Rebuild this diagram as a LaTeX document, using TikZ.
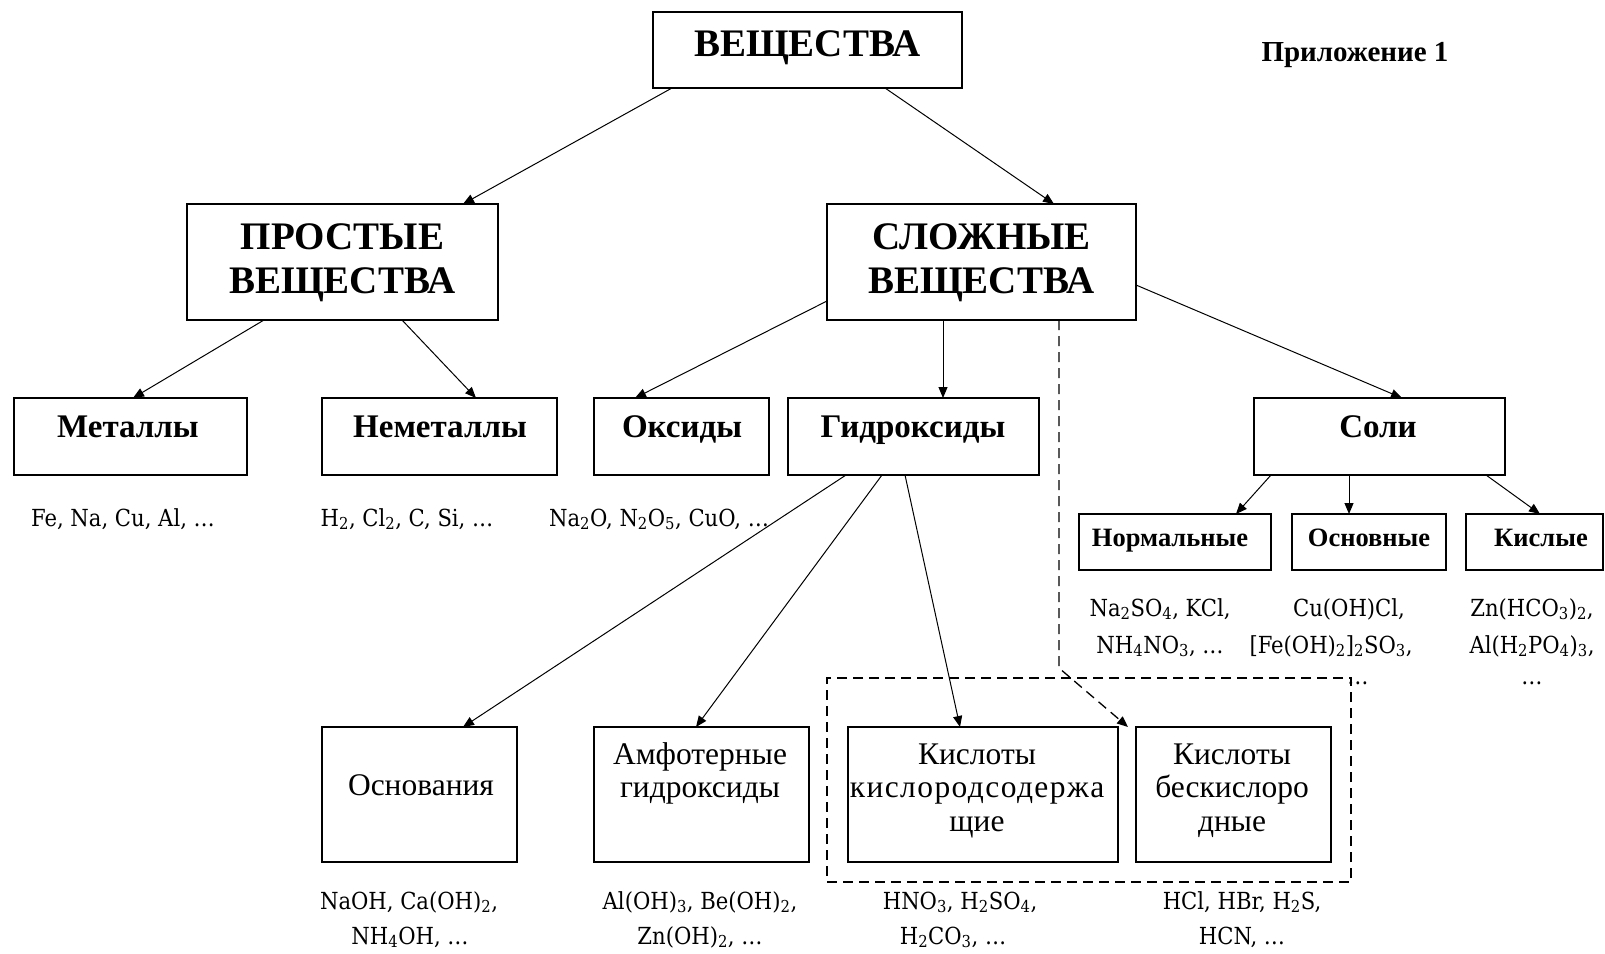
\documentclass[tikz,border=0pt]{standalone}
\usepackage{fontspec}
\setmainfont{Liberation Serif}
\newfontfamily\fml{DejaVu Serif Condensed}
\usetikzlibrary{arrows.meta}
\newcommand{\ix}[1]{\textsubscript{#1}}
\newcommand{\bx}[5]{\node[box, minimum width={#4-#2}, minimum height={#5-#3}] (#1) at ({(#2+#4)/2},{(#3+#5)/2}) {};}
\begin{document}
\begin{tikzpicture}[x=1pt,y=-1pt,
  box/.style={draw, line width=1.4pt, inner sep=0pt, outer sep=0pt},
  grp/.style={draw, line width=1.4pt, dash pattern=on 10pt off 6pt, inner sep=0pt, outer sep=0pt},
  arr/.style={-{Triangle[length=11pt,width=9pt]}, line width=1pt},
  big/.style={font=\fontsize{39}{41}\selectfont\bfseries, anchor=base},
  mid/.style={font=\fontsize{33}{35}\selectfont\bfseries, anchor=base},
  sml/.style={font=\fontsize{26.5}{28}\selectfont\bfseries, anchor=base},
  reg/.style={font=\fontsize{31.5}{33}\selectfont, anchor=base},
  fm/.style={font=\fml\fontsize{23.5}{25}\selectfont, anchor=base, inner sep=0pt},
]
\fill[white] (0,0) rectangle (1605,953);
\useasboundingbox (0,0) rectangle (1605,953);

% boxes
\bx{top}{653}{12}{962}{88}
\bx{pros}{187}{204}{498}{320}
\bx{slo}{827}{204}{1136}{320}
\bx{met}{14}{398}{247}{475}
\bx{nem}{322}{398}{557}{475}
\bx{oks}{594}{398}{769}{475}
\bx{gid}{788}{398}{1039}{475}
\bx{sol}{1254}{398}{1505}{475}
\bx{nor}{1079}{514}{1271}{570}
\bx{osn}{1292}{514}{1446}{570}
\bx{kis}{1466}{514}{1603}{570}
\bx{osv}{322}{727}{517}{862}
\bx{amf}{594}{727}{809}{862}
\bx{kk}{848}{727}{1118}{862}
\bx{kb}{1136}{727}{1331}{862}
\node[grp, minimum width=524, minimum height=204] (grp) at (1089,780) {};

% labels
\node[big] (l1) at (807.5,56) {ВЕЩЕСТВА};
\node[big] (l2a) at (342.5,249) {ПРОСТЫЕ};
\node[big] (l2b) at (342.5,293) {ВЕЩЕСТВА};
\node[big] (l3a) at (981.5,249) {СЛОЖНЫЕ};
\node[big] (l3b) at (981.5,293) {ВЕЩЕСТВА};
\node[mid] (l4) at (128,437) {Металлы};
\node[mid] (l5) at (440,437) {Неметаллы};
\node[mid] (l6) at (682,437) {Оксиды};
\node[mid] (l7) at (913,437) {Гидроксиды};
\node[mid] (l8) at (1378,437) {Соли};
\node[sml] (l9) at (1170,546) {Нормальные};
\node[sml] (l10) at (1369,546) {Основные};
\node[sml] (l11) at (1541,546) {Кислые};
\node[reg] (l12) at (421,795) {Основания};
\node[reg] (l13a) at (700,764) {Амфотерные};
\node[reg] (l13b) at (700,797) {гидроксиды};
\node[reg] (l14a) at (977,764) {Кислоты};
\node[reg] (l14b) at (977,797) {\addfontfeature{LetterSpace=4.5}кислородсодержа};
\node[reg] (l14c) at (977,831) {щие};
\node[reg] (l15a) at (1232,764) {Кислоты};
\node[reg] (l15b) at (1232,797) {бескислоро};
\node[reg] (l15c) at (1232,831) {дные};
\node[font=\fontsize{29}{31}\selectfont\bfseries, anchor=base] (app) at (1355,61) {Приложение 1};

% formulas
\node[fm] (f1) at (123,526) {Fe, Na, Cu, Al, …};
\node[fm] (f2) at (407,526) {H\ix2, Cl\ix2, C, Si, …};
\node[fm] (f3) at (659,526) {Na\ix2O, N\ix2O\ix5, CuO, …};
\node[fm] (f4a) at (1160,616) {Na\ix2SO\ix4, KCl,};
\node[fm] (f4b) at (1160,653) {NH\ix4NO\ix3, …};
\node[fm] (f5a) at (1349,616) {Cu(OH)Cl,};
\node[fm] (f5b) at (1331,653) {[Fe(OH)\ix2]\ix2SO\ix3,};
\node[fm] (f5c) at (1358,684) {…};
\node[fm] (f6a) at (1532,616) {Zn(HCO\ix3)\ix2,};
\node[fm] (f6b) at (1532,653) {Al(H\ix2PO\ix4)\ix3,};
\node[fm] (f6c) at (1532,684) {…};
\node[fm] (f7a) at (409,909) {NaOH, Ca(OH)\ix2,};
\node[fm] (f7b) at (410,944) {NH\ix4OH, …};
\node[fm] (f8a) at (700,909) {Al(OH)\ix3, Be(OH)\ix2,};
\node[fm] (f8b) at (700,944) {Zn(OH)\ix2, …};
\node[fm] (f9a) at (960,909) {HNO\ix3, H\ix2SO\ix4,};
\node[fm] (f9b) at (953,944) {H\ix2CO\ix3, …};
\node[fm] (f10a) at (1242,909) {HCl, HBr, H\ix2S,};
\node[fm] (f10b) at (1242,944) {HCN, …};

% arrows
\draw[arr] ([xshift=19pt]top.south west) -- ([xshift=276pt]pros.north west);
\draw[arr] ([xshift=232pt]top.south west) -- ([xshift=227pt]slo.north west);
\draw[arr] ([xshift=77pt]pros.south west) -- ([xshift=119pt]met.north west);
\draw[arr] ([xshift=215pt]pros.south west) -- ([xshift=154pt]nem.north west);
\draw[arr] ([yshift=-97pt]slo.north west) -- ([xshift=41pt]oks.north west);
\draw[arr] ([xshift=116pt]slo.south west) -- ([xshift=155pt]gid.north west);
\draw[arr] ([yshift=-81pt]slo.north east) -- ([xshift=148pt]sol.north west);
\draw[arr] ([xshift=17pt]sol.south west) -- ([xshift=157pt]nor.north west);
\draw[arr] ([xshift=95pt]sol.south west) -- ([xshift=57pt]osn.north west);
\draw[arr] ([xshift=232pt]sol.south west) -- ([xshift=74pt]kis.north west);
\draw[arr] ([xshift=58pt]gid.south west) -- ([xshift=141pt]osv.north west);
\draw[arr] ([xshift=94pt]gid.south west) -- ([xshift=102pt]amf.north west);
\draw[arr] ([xshift=117pt]gid.south west) -- ([xshift=112pt]kk.north west);
\draw[arr, line width=1.3pt, dash pattern=on 10pt off 6pt] ([xshift=232pt]slo.south west) -- ++(0,348) -- ([xshift=-8pt]kb.north west);
\end{tikzpicture}
\end{document}
